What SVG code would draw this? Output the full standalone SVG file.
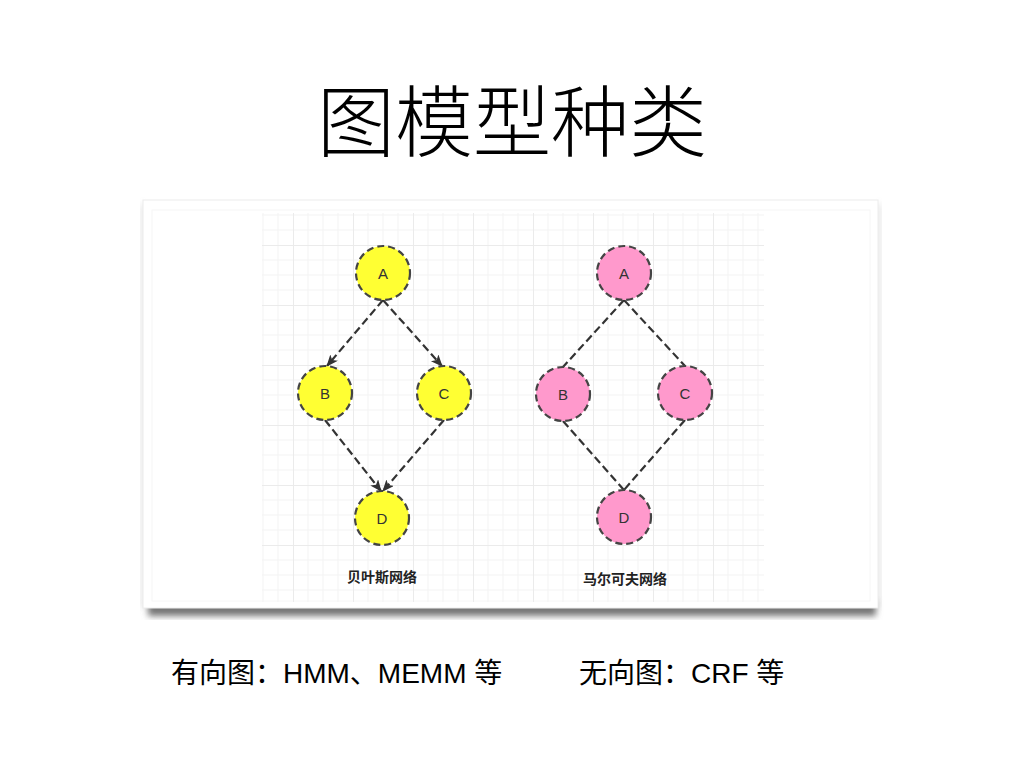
<svg xmlns="http://www.w3.org/2000/svg" width="1024" height="768" viewBox="0 0 1024 768">
<style>
.title{font-family:"Noto Sans CJK SC","Liberation Sans",sans-serif;font-size:78px;font-weight:300;fill:#000;text-anchor:middle}
.foot{font-family:"Liberation Sans","Noto Sans CJK SC",sans-serif;font-size:28px;fill:#000}
.cap{font-family:"Liberation Sans","Noto Sans CJK SC",sans-serif;font-size:14px;font-weight:bold;fill:#222;text-anchor:middle}
.lbl{font-family:"Liberation Sans","Noto Sans CJK SC",sans-serif;font-size:15px;fill:#333;text-anchor:middle;dominant-baseline:central}
.node{stroke:#444;stroke-width:2.2;stroke-dasharray:7 4}
.yel{fill:#ffff33}
.pink{fill:#ff99cc}
.edge{stroke:#333;stroke-width:2.2;stroke-dasharray:8 4;fill:none}
</style>
<defs>
<pattern id="grid" patternUnits="userSpaceOnUse" x="293" y="245" width="60" height="60">
<path d="M15 0V60M30 0V60M45 0V60M0 15H60M0 30H60M0 45H60" stroke="#f3f3f3" stroke-width="1" fill="none"/>
<path d="M0.5 0V60M0 0.5H60" stroke="#ebebeb" stroke-width="1" fill="none"/>
</pattern>
<filter id="sh" x="-5%" y="-20%" width="110%" height="140%">
<feGaussianBlur stdDeviation="3"/>
</filter>
<marker id="arr" markerUnits="userSpaceOnUse" markerWidth="14" markerHeight="12" refX="11" refY="5" orient="auto">
<path d="M0,0 L12,5 L0,10 L3,5 z" fill="#333"/>
</marker>
</defs>
<rect width="1024" height="768" fill="#fff"/>
<text class="title" x="512" y="151">图模型种类</text>
<g id="card">
<rect x="148" y="600" width="728" height="16" fill="#777" filter="url(#sh)"/>
<rect x="141" y="204" width="4" height="404" fill="#ccc" filter="url(#sh)" opacity="0.6"/>
<rect x="877" y="204" width="4" height="404" fill="#ccc" filter="url(#sh)" opacity="0.6"/>
<rect x="143" y="200" width="735" height="408" fill="#fff" stroke="#ececec" stroke-width="1"/>
<rect x="152" y="210" width="718" height="391" fill="none" stroke="#f6f6f6" stroke-width="1"/>
<rect x="262" y="213" width="502" height="389" fill="url(#grid)"/>
</g>
<g id="connectors">
<line class="edge" x1="383" y1="300" x2="327" y2="366" marker-end="url(#arr)"/>
<line class="edge" x1="383" y1="300" x2="442" y2="366" marker-end="url(#arr)"/>
<line class="edge" x1="325" y1="420" x2="381" y2="491" marker-end="url(#arr)"/>
<line class="edge" x1="444" y1="420" x2="383" y2="491" marker-end="url(#arr)"/>
<line class="edge" x1="624" y1="300" x2="563" y2="367"/>
<line class="edge" x1="624" y1="300" x2="685" y2="366"/>
<line class="edge" x1="563" y1="421" x2="624" y2="490"/>
<line class="edge" x1="685" y1="420" x2="624" y2="490"/>
</g>
<g id="bA"><circle class="node yel" cx="383" cy="273" r="27"/><text class="lbl" x="383" y="273">A</text></g>
<g id="bB"><circle class="node yel" cx="325" cy="393" r="27"/><text class="lbl" x="325" y="393">B</text></g>
<g id="bC"><circle class="node yel" cx="444" cy="393" r="27"/><text class="lbl" x="444" y="393">C</text></g>
<g id="bD"><circle class="node yel" cx="382" cy="518" r="27"/><text class="lbl" x="382" y="518">D</text></g>
<g id="mA"><circle class="node pink" cx="624" cy="273" r="27"/><text class="lbl" x="624" y="273">A</text></g>
<g id="mB"><circle class="node pink" cx="563" cy="394" r="27"/><text class="lbl" x="563" y="394">B</text></g>
<g id="mC"><circle class="node pink" cx="685" cy="393" r="27"/><text class="lbl" x="685" y="393">C</text></g>
<g id="mD"><circle class="node pink" cx="624" cy="517" r="27"/><text class="lbl" x="624" y="517">D</text></g>
<text class="cap" x="382" y="582">贝叶斯网络</text>
<text class="cap" x="625" y="584">马尔可夫网络</text>
<text class="foot" x="171" y="683">有向图：HMM、MEMM 等</text>
<text class="foot" x="579" y="683">无向图：CRF 等</text>
</svg>
